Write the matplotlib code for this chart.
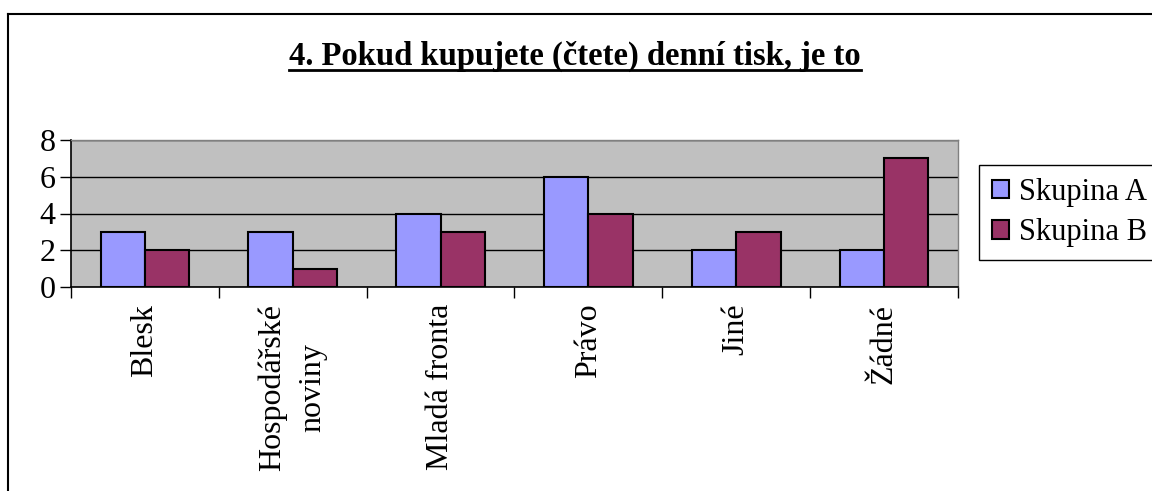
import numpy as np
import matplotlib
matplotlib.use("Agg")
import matplotlib.pyplot as plt
from matplotlib.patches import Patch
from matplotlib.lines import Line2D

categories = ["Blesk", "Hospodářské\nnoviny", "Mladá fronta", "Právo", "Jiné", "Žádné"]
skupina_a = [3, 3, 4, 6, 2, 2]
skupina_b = [2, 1, 3, 4, 3, 7]
series_names = ["Skupina A", "Skupina B"]
title = "4. Pokud kupujete (čtete) denní tisk, je to"

plt.rcParams["font.family"] = ["Liberation Serif", "DejaVu Serif"]
col_a = "#9999FF"
col_b = "#993366"

W, H = 1152, 491
fig = plt.figure(figsize=(W / 100, H / 100), dpi=100)
ax = fig.add_axes([71 / W, 1 - 287 / H, (958 - 71) / W, (287 - 140) / H])
ax.set_facecolor("#C0C0C0")

x = np.arange(len(categories))
bw = 0.3
ax.bar(x - bw / 2, skupina_a, bw, color=col_a, edgecolor="black", linewidth=1.5, zorder=3)
ax.bar(x + bw / 2, skupina_b, bw, color=col_b, edgecolor="black", linewidth=1.5, zorder=3)

ax.set_xlim(-0.5, len(categories) - 0.5)
ax.set_ylim(0, 8)
ax.set_yticks([0, 2, 4, 6, 8])
ax.yaxis.grid(True, color="black", linewidth=1.0, zorder=1)
ax.set_axisbelow(True)

ax.set_xticks(x)
ax.set_xticklabels(categories, rotation=90, fontsize=23, multialignment="center",
                   linespacing=1.5)
ax.set_xticks(np.arange(-0.5, len(categories)), minor=True)
ax.tick_params(axis="x", which="major", length=0, pad=12)
ax.tick_params(axis="x", which="minor", length=8, width=1, direction="out")
ax.tick_params(axis="y", length=8, width=1, direction="out", labelsize=23, pad=3)

for s in ["top", "right"]:
    ax.spines[s].set_color("#808080")
    ax.spines[s].set_linewidth(1)
ax.spines["left"].set_linewidth(1.2)
ax.spines["bottom"].set_linewidth(1.2)

handles = [Patch(facecolor=col_a, edgecolor="black", linewidth=1.5),
           Patch(facecolor=col_b, edgecolor="black", linewidth=1.5)]
leg = fig.legend(handles, series_names, loc="upper left",
                 bbox_to_anchor=(979 / W, 1 - 165 / H), fontsize=22,
                 fancybox=False, framealpha=1, edgecolor="black",
                 handlelength=0.55, handleheight=0.55, handletextpad=0.35,
                 borderpad=0.42, labelspacing=0.38, borderaxespad=0)
leg.get_frame().set_linewidth(1)

t = fig.text(575 / W, 1 - 56 / H, title, ha="center", va="center",
             fontsize=23.5, fontweight="bold")

# outer chart border (left and top only visible)
fig.add_artist(Line2D([7.5 / W, 7.5 / W], [0, 1 - 13.5 / H], color="black",
                      linewidth=1.5, transform=fig.transFigure))
fig.add_artist(Line2D([7.5 / W, 1], [1 - 13.5 / H, 1 - 13.5 / H], color="black",
                      linewidth=1.5, transform=fig.transFigure))

# underline the title
fig.canvas.draw()
bb = t.get_window_extent().transformed(fig.transFigure.inverted())
fig.add_artist(Line2D([bb.x0, bb.x1], [1 - 70 / H, 1 - 70 / H], color="black",
                      linewidth=2, transform=fig.transFigure))

fig.savefig("out.png", dpi=100)
